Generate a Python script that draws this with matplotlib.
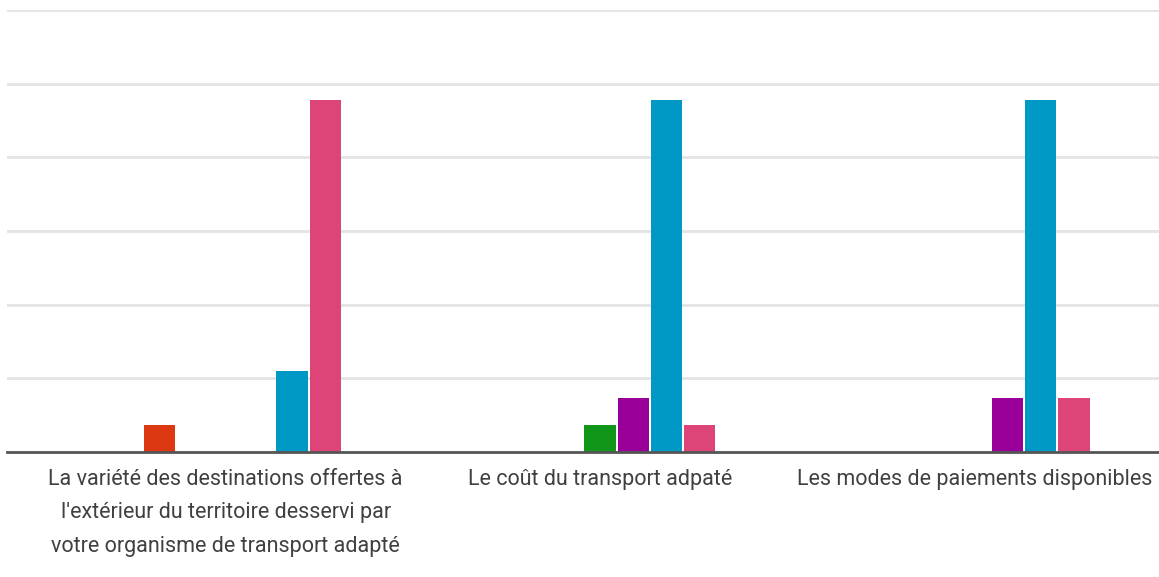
import numpy as np
import matplotlib.pyplot as plt

categories = [
    "La variété des destinations offertes à\nl'extérieur du territoire desservi par\nvotre organisme de transport adapté",
    "Le coût du transport adpaté",
    "Les modes de paiements disponibles",
]
series_names = ['Série 1', 'Série 2', 'Série 3', 'Série 4', 'Série 5', 'Série 6', 'Série 7']
series_colors = ['#3366cc', '#dc3912', '#ff9900', '#109618', '#990099', '#0099c6', '#dd4477']
values = [
    [0, 0, 0],    # série 1
    [1, 0, 0],    # série 2
    [0, 0, 0],    # série 3
    [0, 1, 0],    # série 4
    [0, 2, 2],    # série 5
    [3, 13, 13],  # série 6
    [13, 1, 2],   # série 7
]

fig = plt.figure(figsize=(11.59, 5.77), dpi=100)
ax = fig.add_axes([7 / 1159, 1 - 452 / 577, 1 - 7 / 1159, (452 - 10) / 577])

x = np.arange(len(categories))
slot = 0.0887
n = len(series_names)
for i, (name, color, vals) in enumerate(zip(series_names, series_colors, values)):
    ax.bar(x + (i - (n - 1) / 2) * slot, vals, width=slot * 0.94, color=color,
           label=name, zorder=3)

step = 2.72
ax.set_ylim(0, 6 * step)
ax.set_yticks(np.arange(1, 7) * step)
ax.yaxis.grid(True, color='#e4e4e4', lw=2, zorder=0)
ax.tick_params(axis='y', left=False, labelleft=False)
ax.set_xlim(-0.584, 2.493)
ax.set_xticks(x)
ax.set_xticklabels(categories, fontsize=15.5, color='#404040', family='Roboto', linespacing=1.8)
ax.tick_params(axis='x', length=0, pad=12)
for s in ['top', 'right', 'left']:
    ax.spines[s].set_visible(False)
ax.spines['bottom'].set_color('#555555')
ax.spines['bottom'].set_linewidth(2)
ax.spines['bottom'].set_zorder(4)

fig.savefig('out.png', dpi=100)
